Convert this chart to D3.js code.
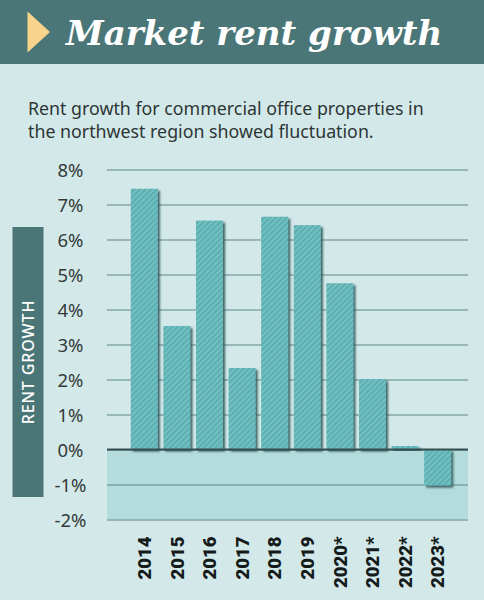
<!DOCTYPE html>
<html>
<head>
<meta charset="utf-8">
<script src="https://cdn.jsdelivr.net/npm/d3@7"></script>
<style>
html,body{margin:0;padding:0;background:#d3e9e9;}
svg{display:block;}
</style>
</head>
<body>
<div id="chart"></div>
<script>
const years = ["2014","2015","2016","2017","2018","2019","2020*","2021*","2022*","2023*"];
const growth = [7.45, 3.53, 6.54, 2.33, 6.65, 6.41, 4.75, 2.01, 0.1, -1.03];
const yTicks = [-2,-1,0,1,2,3,4,5,6,7,8];
const titleText = "Market rent growth";
const subtitleLines = ["Rent growth for commercial office properties in","the northwest region showed fluctuation."];
const yAxisTitle = "RENT GROWTH";

const W = 484, H = 600;
const svg = d3.select("#chart").append("svg").attr("width", W).attr("height", H);
const defs = svg.append("defs");

const pat = defs.append("pattern").attr("id","hatch").attr("patternUnits","userSpaceOnUse")
  .attr("width",4).attr("height",4).attr("patternTransform","rotate(45)");
pat.append("rect").attr("width",4).attr("height",4).attr("fill","#71c0c2");
pat.append("rect").attr("width",1.6).attr("height",4).attr("fill","#58aaad");

const f = defs.append("filter").attr("id","shadow").attr("x","-20%").attr("y","-20%").attr("width","150%").attr("height","150%");
f.append("feDropShadow").attr("dx",2).attr("dy",2).attr("stdDeviation",1).attr("flood-color","#2c5253").attr("flood-opacity",0.9);

svg.append("rect").attr("width",W).attr("height",H).attr("fill","#d3e9e9");

// header
svg.append("rect").attr("width",W).attr("height",64).attr("fill","#4b7677");
svg.append("path").attr("d","M27.5,11.5 L50,32 L27.5,52.5 Z").attr("fill","#f7d38c");
svg.append("text").attr("x",66).attr("y",45).text(titleText)
  .attr("font-family","'DejaVu Serif', serif").attr("font-weight","bold").attr("font-style","italic")
  .attr("font-size",34).attr("fill","#ffffff");

// subtitle
svg.append("g").selectAll("text").data(subtitleLines).join("text")
  .attr("x",28).attr("y",(d,i)=>115+i*22.6).text(d=>d)
  .attr("font-family","'Noto Sans', sans-serif").attr("font-size",17.8).attr("fill","#2e3535");

// scales
const x = d3.scaleBand().domain(years).range([128,454]).paddingInner(0.17).paddingOuter(0.085);
const y = d3.scaleLinear().domain([-2,8]).range([519.5,169.5]);
const gx0 = 107, gx1 = 468;

// negative band
svg.append("rect").attr("x",gx0).attr("y",y(0)).attr("width",gx1-gx0).attr("height",y(-2)-y(0)).attr("fill","#b5dcdd");

// y axis with gridlines
const yAxis = svg.append("g").attr("transform",`translate(${gx0},0)`)
  .call(d3.axisLeft(y).tickValues(yTicks).tickSize(-(gx1-gx0)).tickFormat(d=>d+"%"));
yAxis.select(".domain").remove();
yAxis.selectAll(".tick line").attr("stroke","#5f8586").attr("stroke-width",1.2);
yAxis.selectAll(".tick text").attr("x",-36.5).attr("text-anchor","middle").attr("dy","0.36em")
  .attr("font-family","'Noto Sans', sans-serif").attr("font-size",18.5).attr("fill","#333a3a");

// bars
svg.append("g").selectAll("rect").data(years).join("rect")
  .attr("x",d=>x(d))
  .attr("y",(d,i)=>y(Math.max(0,growth[i])))
  .attr("width",x.bandwidth())
  .attr("height",(d,i)=>Math.abs(y(growth[i])-y(0)))
  .attr("fill","url(#hatch)")
  .attr("filter","url(#shadow)");

// zero line
svg.append("line").attr("x1",gx0).attr("x2",gx1).attr("y1",y(0)).attr("y2",y(0))
  .attr("stroke","#344e4f").attr("stroke-width",2.2);

// x axis labels
const xAxis = svg.append("g").attr("transform",`translate(0,${y(-2)})`)
  .call(d3.axisBottom(x).tickSize(0).tickPadding(0));
xAxis.select(".domain").remove();
xAxis.selectAll(".tick text")
  .attr("transform","translate(0,17) rotate(-90)")
  .attr("x",0).attr("y",0).attr("dy","0.36em").attr("text-anchor","end")
  .attr("font-family","Roboto, sans-serif").attr("font-weight",900).attr("font-size",18.5)
  .attr("fill","#151a1a");

// y axis title box
svg.append("rect").attr("x",12.5).attr("y",227).attr("width",31).attr("height",270).attr("fill","#4b7677");
svg.append("text").attr("transform","translate(28,362) rotate(-90)")
  .attr("text-anchor","middle").attr("dy","0.36em").text(yAxisTitle)
  .attr("font-family","'Noto Sans', sans-serif").attr("font-weight",500).attr("font-size",16)
  .attr("letter-spacing",0.9).attr("fill","#ffffff");
</script>
</body>
</html>
